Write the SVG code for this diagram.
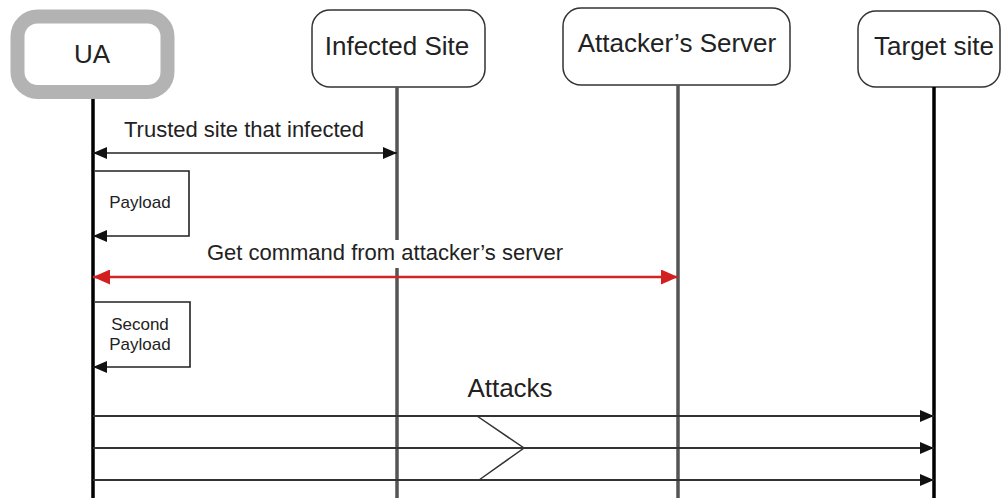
<svg xmlns="http://www.w3.org/2000/svg" width="1002" height="498" viewBox="0 0 1002 498">
  <defs>
    <style>
      text { font-family: "Liberation Sans", Arial, sans-serif; fill: #222; }
      .head { font-size: 26px; text-anchor: middle; }
      .lbl { font-size: 22px; }
      .small { font-size: 17px; text-anchor: middle; }
      .box { fill: #fff; stroke: #333; stroke-width: 1.5; }
      .life-dark { stroke: #000; stroke-width: 3.5; fill: none; }
      .life-grey { stroke: #555; stroke-width: 3.5; fill: none; }
      .msg { stroke: #222; stroke-width: 1.6; fill: none; }
      .cmd { stroke: #cc2626; stroke-width: 2.6; fill: none; }
      .atk { stroke: #333; stroke-width: 2; fill: none; }
    </style>
    <marker id="ah" markerUnits="userSpaceOnUse" viewBox="0 0 14 12" refX="14" refY="6" markerWidth="14" markerHeight="12" orient="auto-start-reverse">
      <path d="M0,0 L14,6 L0,12 Z" fill="#111"/>
    </marker>
    <marker id="ah-red" markerUnits="userSpaceOnUse" viewBox="0 0 17 15" refX="17" refY="7.5" markerWidth="17" markerHeight="15" orient="auto-start-reverse">
      <path d="M0,0 L17,7.5 L0,15 Z" fill="#d21f1f"/>
    </marker>
  </defs>

  <rect width="1002" height="498" fill="#fff"/>

  <!-- participants -->
  <g id="ua">
    <rect x="17.5" y="16.5" width="150" height="75.5" rx="20" fill="#fff" stroke="#b3b3b3" stroke-width="14"/>
    <text class="head" x="92" y="63">UA</text>
  </g>
  <g id="infected-site">
    <rect class="box" x="312" y="10" width="173" height="77" rx="18"/>
    <text class="head" x="397" y="55">Infected Site</text>
  </g>
  <g id="attackers-server">
    <rect class="box" x="563" y="8" width="227" height="77" rx="18"/>
    <text class="head" x="677" y="52">Attacker’s Server</text>
  </g>
  <g id="target-site">
    <rect class="box" x="858" y="11" width="142" height="76" rx="18"/>
    <text class="head" x="934" y="55">Target site</text>
  </g>

  <!-- lifelines -->
  <g id="lifelines">
    <line class="life-dark" x1="93" y1="99" x2="93" y2="498"/>
    <line class="life-grey" x1="397" y1="87" x2="397" y2="240"/>
    <line class="life-grey" x1="397" y1="268" x2="397" y2="498"/>
    <line class="life-grey" x1="678" y1="85" x2="678" y2="498"/>
    <line class="life-dark" x1="934" y1="87" x2="934" y2="498"/>
  </g>

  <!-- messages -->
  <g id="connectors">
    <line class="msg" x1="93" y1="153" x2="397" y2="153" marker-start="url(#ah)" marker-end="url(#ah)"/>
    <text class="lbl" x="244" y="137" text-anchor="middle">Trusted site that infected</text>

    <polyline class="msg" points="95,171 189,171 189,236 93,236" marker-end="url(#ah)"/>
    <text class="small" x="140" y="208">Payload</text>

    <line class="cmd" x1="93" y1="277" x2="678" y2="277" marker-start="url(#ah-red)" marker-end="url(#ah-red)"/>
    <text class="lbl" x="385" y="260" text-anchor="middle">Get command from attacker’s server</text>

    <polyline class="msg" points="95,302 190,302 190,367 93,367" marker-end="url(#ah)"/>
    <text class="small" x="140" y="330">Second</text>
    <text class="small" x="140" y="350">Payload</text>

    <text class="head" x="510" y="397">Attacks</text>
    <line class="atk" x1="93" y1="416" x2="934" y2="416" marker-end="url(#ah)"/>
    <line class="atk" x1="93" y1="448" x2="934" y2="448" marker-end="url(#ah)"/>
    <line class="atk" x1="93" y1="480" x2="934" y2="480" marker-end="url(#ah)"/>
    <polyline points="477,416 524,448 479,480" fill="none" stroke="#333" stroke-width="1.5"/>
  </g>
</svg>
